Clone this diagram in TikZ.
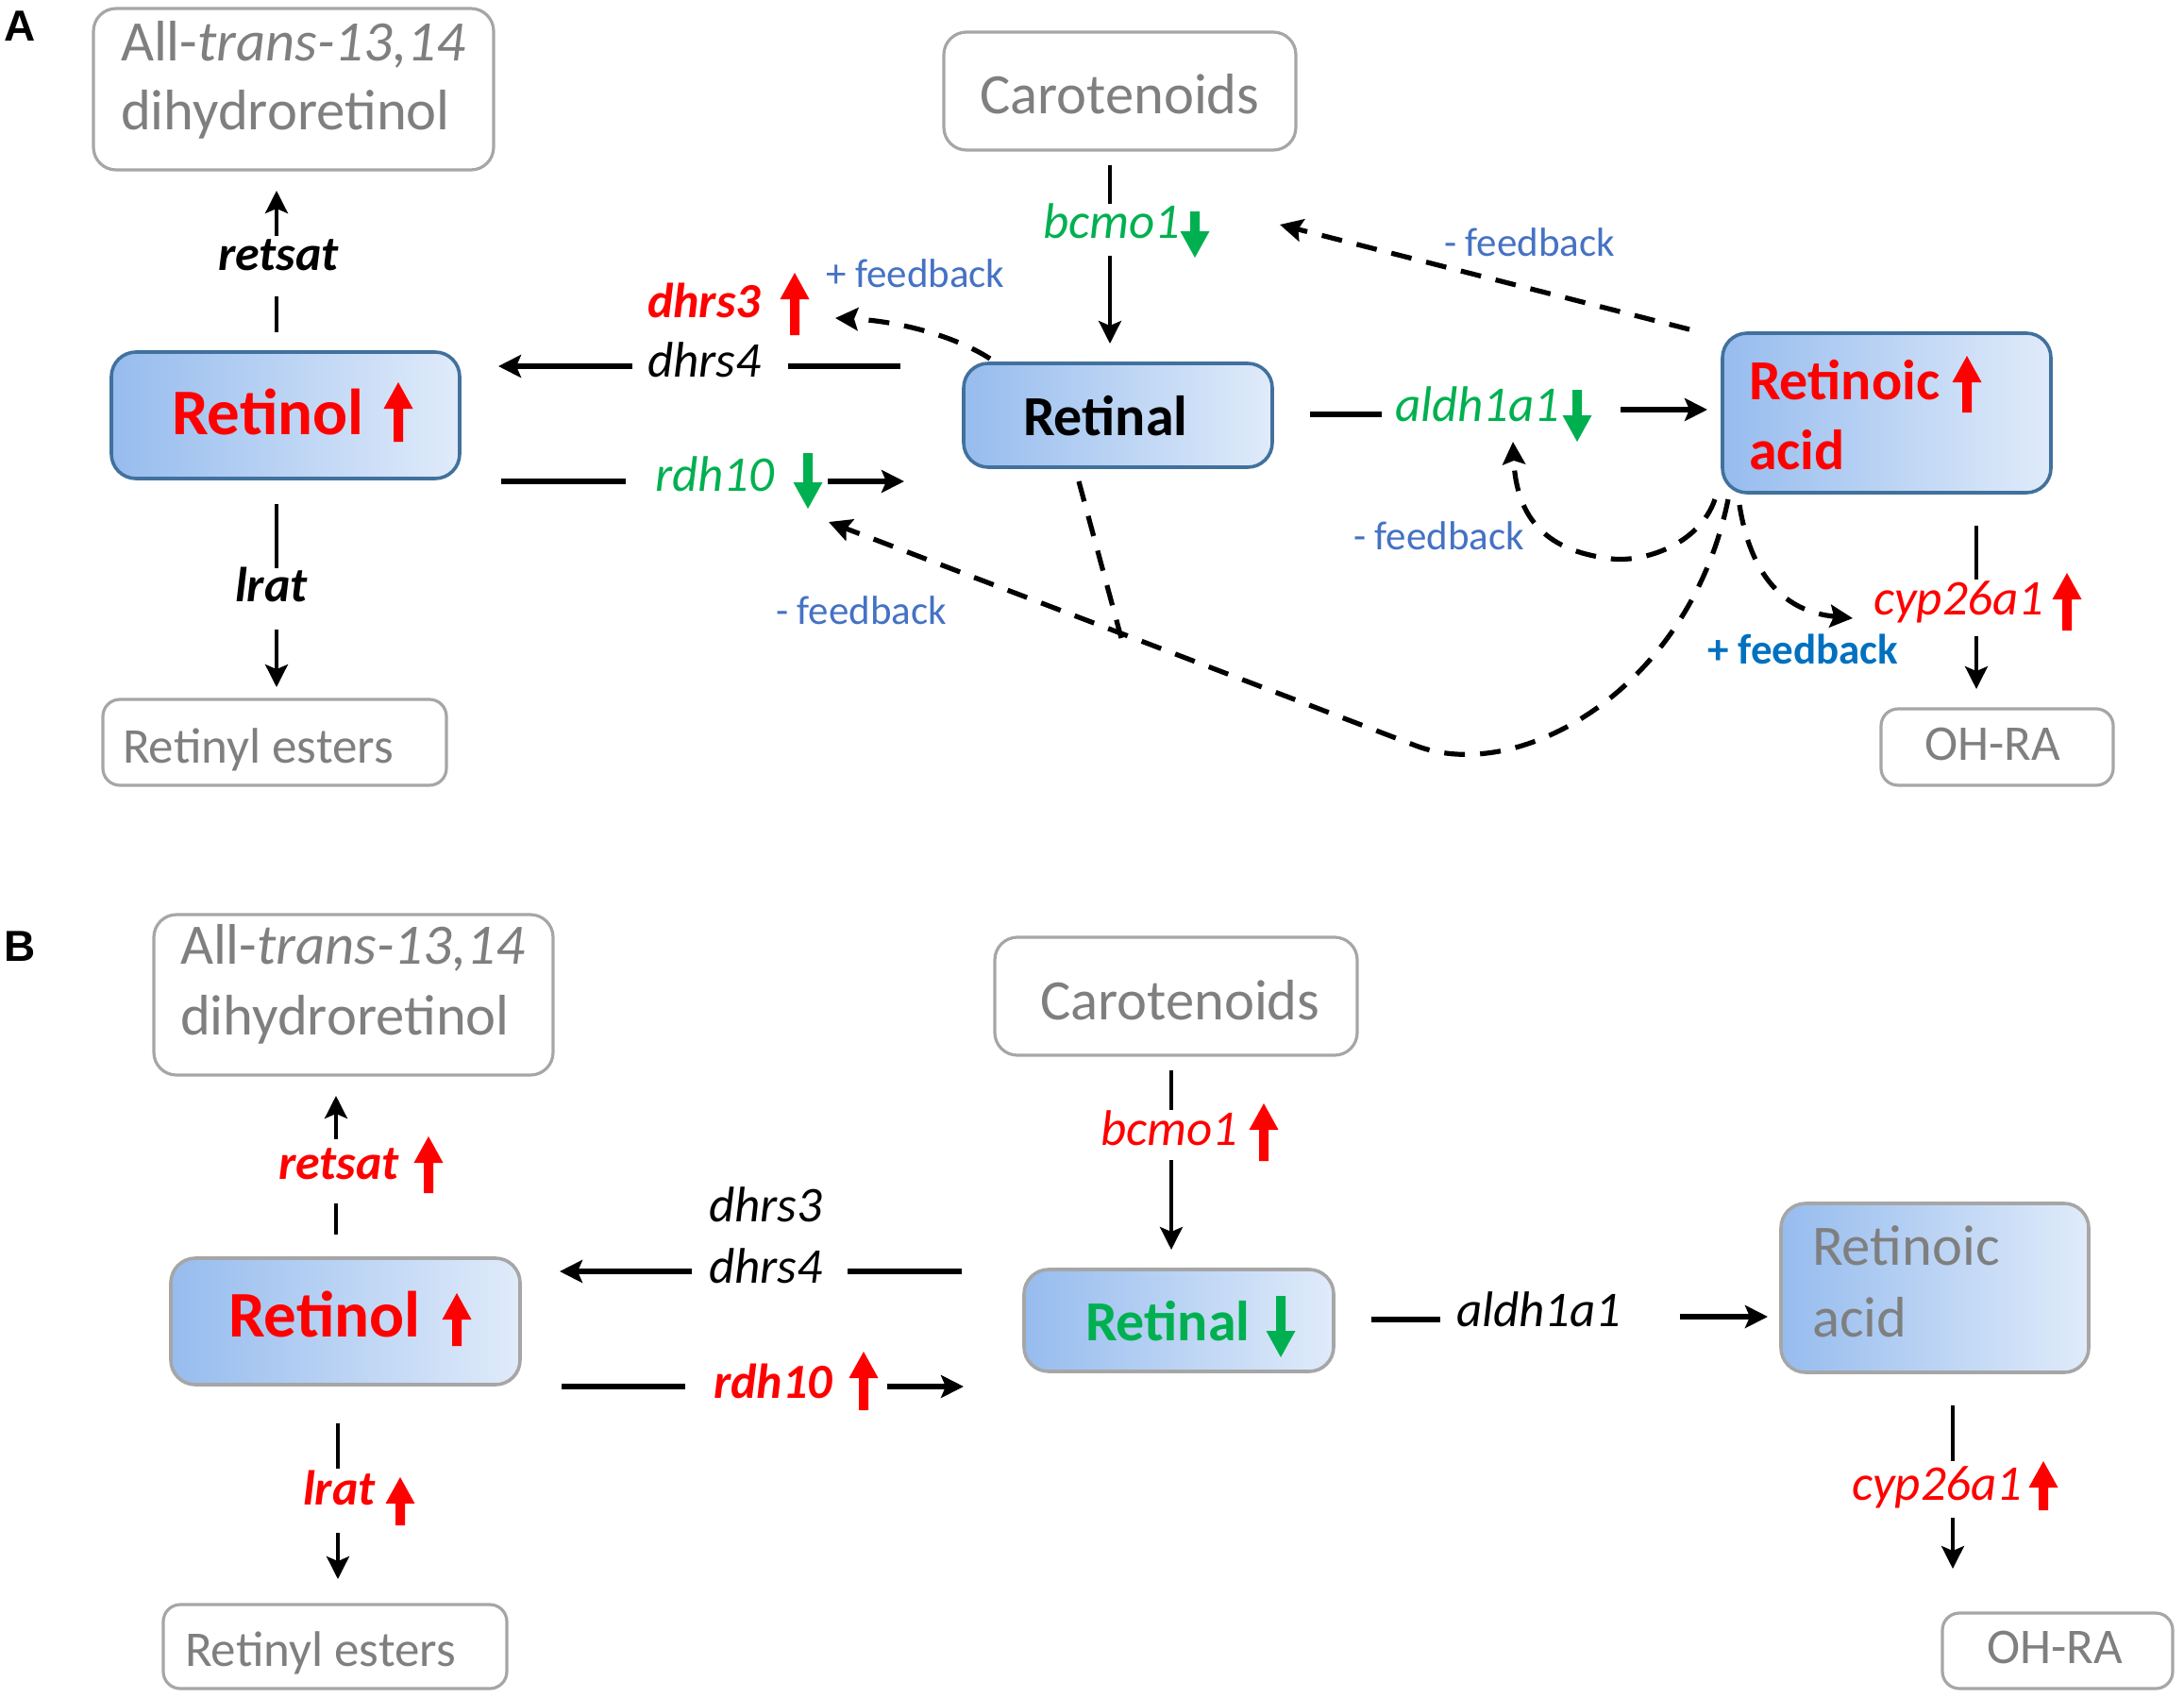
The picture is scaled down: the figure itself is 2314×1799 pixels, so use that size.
\documentclass[tikz,border=0pt]{standalone}
\usepackage{fontspec}
\setmainfont{Carlito}
\newfontfamily\arialfont{Liberation Sans}
\usetikzlibrary{arrows.meta,fit,calc}
\definecolor{fbblue}{HTML}{4472C4}
\definecolor{fbblueb}{HTML}{0070C0}
\definecolor{ggreen}{HTML}{00B050}
\definecolor{rred}{HTML}{FF0000}
\definecolor{txtgray}{HTML}{7F7F7F}
\definecolor{bordgray}{HTML}{A6A6A6}
\definecolor{bordblue}{HTML}{41719C}
\definecolor{shadeL}{RGB}{150,188,238}
\definecolor{shadeR}{RGB}{224,235,250}
\newcommand\myup[4]{\fill[#1] ({#2-5},#4) -- ({#2+5},#4) -- ({#2+5},{#3+28}) -- ({#2+15.5},{#3+28}) -- (#2,#3) -- ({#2-15.5},{#3+28}) -- ({#2-5},{#3+28}) -- cycle;}
\newcommand\mydn[4]{\fill[#1] ({#2-5},#3) -- ({#2+5},#3) -- ({#2+5},{#4-28}) -- ({#2+15.5},{#4-28}) -- (#2,#4) -- ({#2-15.5},{#4-28}) -- ({#2-5},{#4-28}) -- cycle;}
\begin{document}
\begin{tikzpicture}[x=0.5pt,y=-0.5pt,
  graybox/.style={draw=bordgray, line width=1.6pt, rounded corners=12pt, inner sep=0pt},
  smallbox/.style={graybox, rounded corners=9pt},
  bluebox/.style={draw=bordblue, line width=1.8pt, rounded corners=13pt, inner sep=0pt, left color=shadeL, right color=shadeR},
  bluegbox/.style={bluebox, draw=bordgray},
  txt/.style={anchor=base west, inner sep=0pt, outer sep=0pt},
  boxtxt/.style={font=\fontsize{30.3pt}{36pt}\selectfont, text=txtgray},
  smalltxt/.style={font=\fontsize{26.5pt}{32pt}\selectfont, text=txtgray},
  gene/.style={font=\fontsize{26.5pt}{32pt}\selectfont\itshape},
  geneb/.style={font=\fontsize{26pt}{32pt}\selectfont\itshape\bfseries},
  fbtxt/.style={font=\fontsize{21.5pt}{26pt}\selectfont, text=fbblue},
  fbbold/.style={font=\fontsize{22.5pt}{27pt}\selectfont\bfseries, text=fbblueb},
  bigtxt/.style={font=\fontsize{34.5pt}{40pt}\selectfont\bfseries},
  midtxt/.style={font=\fontsize{30pt}{36pt}\selectfont\bfseries},
  paneltxt/.style={font=\arialfont\bfseries\fontsize{23pt}{27pt}\selectfont},
  vseg/.style={line width=1.8pt},
  hseg/.style={line width=2.6pt},
  arr/.style={-{Stealth[length=12pt,width=12pt,inset=2.5pt]}},
  fb/.style={line width=2.6pt, dash pattern=on 11pt off 8pt},
  fbarr/.style={fb, -{Stealth[length=12pt,width=12pt,inset=2pt]}}
]
\useasboundingbox (0,0) rectangle (2314,1799);

% ================= Panel A =================
\node[txt, paneltxt] (labA) at (4,43) {A};
% boxes
\node[graybox, fit={(99,9) (523,180)}] (allA) {};
\node[graybox, fit={(1000,34) (1373,159)}] (carA) {};
\node[bluebox, fit={(118,373) (487,507)}] (retinolA) {};
\node[bluebox, fit={(1021,385) (1348,495)}] (retinalA) {};
\node[bluebox, fit={(1825,353) (2173,522)}] (raA) {};
\node[smallbox, fit={(109,741) (473,832)}] (retinylA) {};
\node[smallbox, fit={(1993,751) (2239,832)}] (ohraA) {};
% box texts
\node[txt, boxtxt] (allA1) at (128,64) {All-\textit{trans-13,14}};
\node[txt, boxtxt] (allA2) at (128,137) {dihydroretinol};
\node[txt, boxtxt] (carAt) at (1038,120) {Carotenoids};
\node[txt, bigtxt, text=rred] (retinolAt) at (182,460) {Retinol};
\myup{rred}{422}{405}{468}
\node[txt, midtxt] (retinalAt) at (1084,461) {Retinal};
\node[txt, midtxt, text=rred] (raA1) at (1853,423) {Retinoic};
\node[txt, midtxt, text=rred] (raA2) at (1853,497) {acid};
\myup{rred}{2084}{377}{437}
\node[txt, smalltxt] (retinylAt) at (130,808) {Retinyl esters};
\node[txt, smalltxt] (ohraAt) at (2039,805) {OH-RA};
% gene labels
\node[txt, geneb] (retsatA) at (231,286) {retsat};
\node[txt, geneb] (lratA) at (249,637) {lrat};
\node[txt, geneb, text=rred] (dhrs3A) at (686,336) {dhrs3};
\myup{rred}{842}{289}{355}
\node[txt, gene] (dhrs4A) at (686,399) {dhrs4};
\node[txt, gene, text=ggreen] (rdh10A) at (694,520) {rdh10};
\mydn{ggreen}{856}{480}{539}
\node[txt, gene, text=ggreen] (bcmo1A) at (1105,252) {bcmo1};
\mydn{ggreen}{1266}{224}{273}
\node[txt, gene, text=ggreen] (aldhA) at (1478,446) {aldh1a1};
\mydn{ggreen}{1671}{413}{468}
\node[txt, gene, text=rred] (cypA) at (1985,651) {cyp26a1};
\myup{rred}{2190}{607}{668}
% feedback labels
\node[txt, fbtxt] (fb1) at (875,304) {+ feedback};
\node[txt, fbtxt] (fb2) at (1530,271) {- feedback};
\node[txt, fbtxt] (fb3) at (1434,582) {- feedback};
\node[txt, fbtxt] (fb4) at (822,661) {- feedback};
\node[txt, fbbold] (fb5) at (1809,703) {+ feedback};
% connector coordinates A
\coordinate (rsA1) at (293,352); \coordinate (rsA2) at (293,314);
\coordinate (rsA3) at (293,250); \coordinate (rsA4) at (293,202);
\coordinate (lrA1) at (293,534); \coordinate (lrA2) at (293,602);
\coordinate (lrA3) at (293,667); \coordinate (lrA4) at (293,728);
\coordinate (dhA1) at (954,388); \coordinate (dhA2) at (835,388);
\coordinate (dhA3) at (670,388); \coordinate (dhA4) at (528,388);
\coordinate (rdA1) at (531,510); \coordinate (rdA2) at (663,510);
\coordinate (rdA3) at (877,510); \coordinate (rdA4) at (958,510);
\coordinate (bcA1) at (1176,175); \coordinate (bcA2) at (1176,216);
\coordinate (bcA3) at (1176,271); \coordinate (bcA4) at (1176,364);
\coordinate (alA1) at (1388,439); \coordinate (alA2) at (1464,439);
\coordinate (alA3) at (1717,434); \coordinate (alA4) at (1809,434);
\coordinate (cyA1) at (2094,557); \coordinate (cyA2) at (2094,614);
\coordinate (cyA3) at (2094,674); \coordinate (cyA4) at (2094,730);
\draw[vseg] (rsA1) -- (rsA2);
\draw[vseg, arr] (rsA3) -- (rsA4);
\draw[vseg] (lrA1) -- (lrA2);
\draw[vseg, arr] (lrA3) -- (lrA4);
\draw[hseg] (dhA1) -- (dhA2);
\draw[hseg, arr] (dhA3) -- (dhA4);
\draw[hseg] (rdA1) -- (rdA2);
\draw[hseg, arr] (rdA3) -- (rdA4);
\draw[vseg] (bcA1) -- (bcA2);
\draw[vseg, arr] (bcA3) -- (bcA4);
\draw[hseg] (alA1) -- (alA2);
\draw[hseg, arr] (alA3) -- (alA4);
\draw[vseg] (cyA1) -- (cyA2);
\draw[vseg, arr] (cyA3) -- (cyA4);
% dashed feedback
\coordinate (f1s) at (1049,380); \coordinate (f1e) at (885,337);
\draw[fbarr] (f1s) .. controls (1010,355) and (950,340) .. (f1e);
\coordinate (f2s) at (1790,349); \coordinate (f2e) at (1356,238);
\draw[fbarr] (f2s) -- (f2e);
\coordinate (f3s) at (1817,529); \coordinate (f3e) at (1603,468);
\draw[fbarr] (f3s) .. controls (1800,578) and (1740,596) .. (1707,592)
  .. controls (1650,585) and (1607,560) .. (f3e);
\coordinate (f4s) at (1831,529); \coordinate (f4m) at (1500,790); \coordinate (f4e) at (878,553);
\draw[fbarr] (f4s) .. controls (1790,730) and (1610,832) .. (f4m) -- (f4e);
\coordinate (f5s) at (1143,510); \coordinate (f5e) at (1188,676);
\draw[fb] (f5s) -- (f5e);
\coordinate (f6s) at (1843,535); \coordinate (f6e) at (1963,655);
\draw[fbarr] (f6s) .. controls (1855,610) and (1890,648) .. (f6e);

% ================= Panel B =================
\node[txt, paneltxt] (labB) at (4,1018) {B};
\node[graybox, fit={(163,969) (586,1139)}] (allB) {};
\node[graybox, fit={(1054,993) (1438,1118)}] (carB) {};
\node[bluegbox, fit={(181,1333) (551,1467)}] (retinolB) {};
\node[bluegbox, fit={(1085,1345) (1413,1453)}] (retinalB) {};
\node[bluegbox, fit={(1887,1275) (2213,1454)}] (raB) {};
\node[smallbox, fit={(173,1700) (537,1789)}] (retinylB) {};
\node[smallbox, fit={(2058,1709) (2302,1789)}] (ohraB) {};
\node[txt, boxtxt] (allB1) at (191,1021) {All-\textit{trans-13,14}};
\node[txt, boxtxt] (allB2) at (191,1096) {dihydroretinol};
\node[txt, boxtxt] (carBt) at (1102,1080) {Carotenoids};
\node[txt, bigtxt, text=rred] (retinolBt) at (242,1416) {Retinol};
\myup{rred}{484}{1370}{1426}
\node[txt, midtxt, text=ggreen] (retinalBt) at (1150,1420) {Retinal};
\mydn{ggreen}{1357}{1373}{1438}
\node[txt, boxtxt] (raB1) at (1920,1340) {Retinoic};
\node[txt, boxtxt] (raB2) at (1920,1416) {acid};
\node[txt, smalltxt] (retinylBt) at (196,1765) {Retinyl esters};
\node[txt, smalltxt] (ohraBt) at (2105,1762) {OH-RA};
\node[txt, geneb, text=rred] (retsatB) at (295,1249) {retsat};
\myup{rred}{454}{1204}{1264}
\node[txt, geneb, text=rred] (lratB) at (321,1594) {lrat};
\myup{rred}{424}{1565}{1616}
\node[txt, gene] (dhrs3B) at (751,1294) {dhrs3};
\node[txt, gene] (dhrs4B) at (751,1359) {dhrs4};
\node[txt, geneb, text=rred] (rdh10B) at (756,1481) {rdh10};
\myup{rred}{915}{1432}{1494}
\node[txt, gene, text=rred] (bcmo1B) at (1166,1213) {bcmo1};
\myup{rred}{1339}{1169}{1230}
\node[txt, gene] (aldhB) at (1543,1405) {aldh1a1};
\node[txt, gene, text=rred] (cypB) at (1962,1589) {cyp26a1};
\myup{rred}{2165}{1548}{1600}
% connectors B
\coordinate (rsB1) at (356,1308); \coordinate (rsB2) at (356,1275);
\coordinate (rsB3) at (356,1207); \coordinate (rsB4) at (356,1161);
\coordinate (lrB1) at (358,1508); \coordinate (lrB2) at (358,1556);
\coordinate (lrB3) at (358,1624); \coordinate (lrB4) at (358,1673);
\coordinate (dhB1) at (1019,1347); \coordinate (dhB2) at (898,1347);
\coordinate (dhB3) at (733,1347); \coordinate (dhB4) at (593,1347);
\coordinate (rdB1) at (595,1469); \coordinate (rdB2) at (726,1469);
\coordinate (rdB3) at (940,1469); \coordinate (rdB4) at (1021,1469);
\coordinate (bcB1) at (1241,1134); \coordinate (bcB2) at (1241,1176);
\coordinate (bcB3) at (1241,1229); \coordinate (bcB4) at (1241,1324);
\coordinate (alB1) at (1453,1398); \coordinate (alB2) at (1526,1398);
\coordinate (alB3) at (1780,1395); \coordinate (alB4) at (1873,1395);
\coordinate (cyB1) at (2069,1489); \coordinate (cyB2) at (2069,1548);
\coordinate (cyB3) at (2069,1608); \coordinate (cyB4) at (2069,1662);
\draw[vseg] (rsB1) -- (rsB2);
\draw[vseg, arr] (rsB3) -- (rsB4);
\draw[vseg] (lrB1) -- (lrB2);
\draw[vseg, arr] (lrB3) -- (lrB4);
\draw[hseg] (dhB1) -- (dhB2);
\draw[hseg, arr] (dhB3) -- (dhB4);
\draw[hseg] (rdB1) -- (rdB2);
\draw[hseg, arr] (rdB3) -- (rdB4);
\draw[vseg] (bcB1) -- (bcB2);
\draw[vseg, arr] (bcB3) -- (bcB4);
\draw[hseg] (alB1) -- (alB2);
\draw[hseg, arr] (alB3) -- (alB4);
\draw[vseg] (cyB1) -- (cyB2);
\draw[vseg, arr] (cyB3) -- (cyB4);
\end{tikzpicture}
\end{document}
